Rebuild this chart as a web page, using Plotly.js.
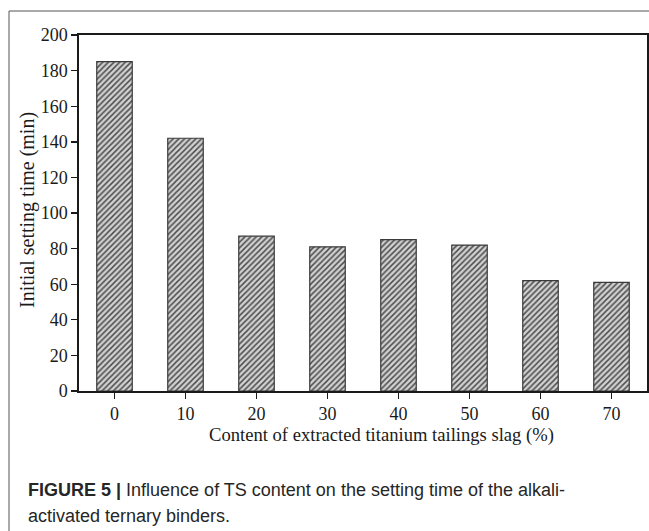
<!DOCTYPE html>
<html>
<head>
<meta charset="utf-8">
<script src="https://cdn.plot.ly/plotly-3.0.1.min.js"></script>
<style>
  html, body { margin: 0; padding: 0; background: #fff; }
  #chart { width: 649px; height: 531px; }
</style>
</head>
<body>
<div id="chart"></div>
<script>
// Data
const categories = ['0', '10', '20', '30', '40', '50', '60', '70'];
const settingTime = [185, 142, 87, 81, 85, 82, 62, 61];
const yTicks = [0, 20, 40, 60, 80, 100, 120, 140, 160, 180, 200];

const xTitle = 'Content of extracted titanium tailings slag (%)';
const yTitle = 'Initial setting time (min)';
const captionLine1 = '<b>FIGURE 5 |</b> Influence of TS content on the setting time of the alkali-';
const captionLine2 = 'activated ternary binders.';

// plot area in pixels: x 79..647, y 35..391
const W = 649, H = 531;
const L = 79, R = 647, T = 35, B = 391;
const px = x => (x - L) / (R - L);
const py = y => (B - y) / (B - T);

const serif = 'Liberation Serif, Times New Roman, serif';
const sans = 'Liberation Sans, Arial, sans-serif';

const trace = {
  type: 'bar',
  x: categories,
  y: settingTime,
  marker: {
    color: '#d2d2d2',
    line: { color: '#3a3a3a', width: 1.2 },
    pattern: { shape: '/', fgcolor: '#4d4d4d', bgcolor: '#d2d2d2', size: 4, solidity: 0.38 }
  },
  hoverinfo: 'x+y'
};

const layout = {
  width: W, height: H,
  margin: { l: L, r: W - R, t: T, b: H - B },
  paper_bgcolor: '#ffffff',
  plot_bgcolor: '#ffffff',
  showlegend: false,
  bargap: 0.5,
  font: { family: serif, size: 18, color: '#1a1a1a' },
  xaxis: {
    type: 'category',
    range: [-0.5, 7.5],
    showline: true, mirror: true, linecolor: '#1a1a1a', linewidth: 1.6,
    ticks: 'outside', ticklen: 6, tickwidth: 1.4, tickcolor: '#1a1a1a',
    showgrid: false, zeroline: false,
    tickfont: { family: serif, size: 18, color: '#1a1a1a' },
    automargin: false
  },
  yaxis: {
    range: [0, 200],
    tickvals: yTicks,
    showline: true, mirror: true, linecolor: '#1a1a1a', linewidth: 1.6,
    ticks: 'outside', ticklen: 6, tickwidth: 1.4, tickcolor: '#1a1a1a',
    showgrid: false, zeroline: false,
    tickfont: { family: serif, size: 18, color: '#1a1a1a' },
    automargin: false
  },
  shapes: [
    { type: 'line', xref: 'paper', yref: 'paper', x0: px(9), x1: px(9), y0: py(11), y1: py(531), line: { color: '#555555', width: 1 } },
    { type: 'line', xref: 'paper', yref: 'paper', x0: px(9), x1: px(649), y0: py(11), y1: py(11), line: { color: '#555555', width: 1 } }
  ],
  annotations: [
    { xref: 'paper', yref: 'paper', x: px(207), y: py(435), xanchor: 'left', yanchor: 'middle', showarrow: false,
      text: xTitle, font: { family: serif, size: 18.6, color: '#1a1a1a' } },
    { xref: 'paper', yref: 'paper', x: px(27), y: py(210), xanchor: 'center', yanchor: 'middle', showarrow: false,
      textangle: -90, text: yTitle, font: { family: serif, size: 20, color: '#1a1a1a' } },
    { xref: 'paper', yref: 'paper', x: px(26), y: py(490), xanchor: 'left', yanchor: 'middle', showarrow: false,
      text: captionLine1, font: { family: sans, size: 18, color: '#262626' } },
    { xref: 'paper', yref: 'paper', x: px(26), y: py(516), xanchor: 'left', yanchor: 'middle', showarrow: false,
      text: captionLine2, font: { family: sans, size: 18, color: '#262626' } }
  ]
};

Plotly.newPlot('chart', [trace], layout, { displayModeBar: false, staticPlot: true });
</script>
</body>
</html>
